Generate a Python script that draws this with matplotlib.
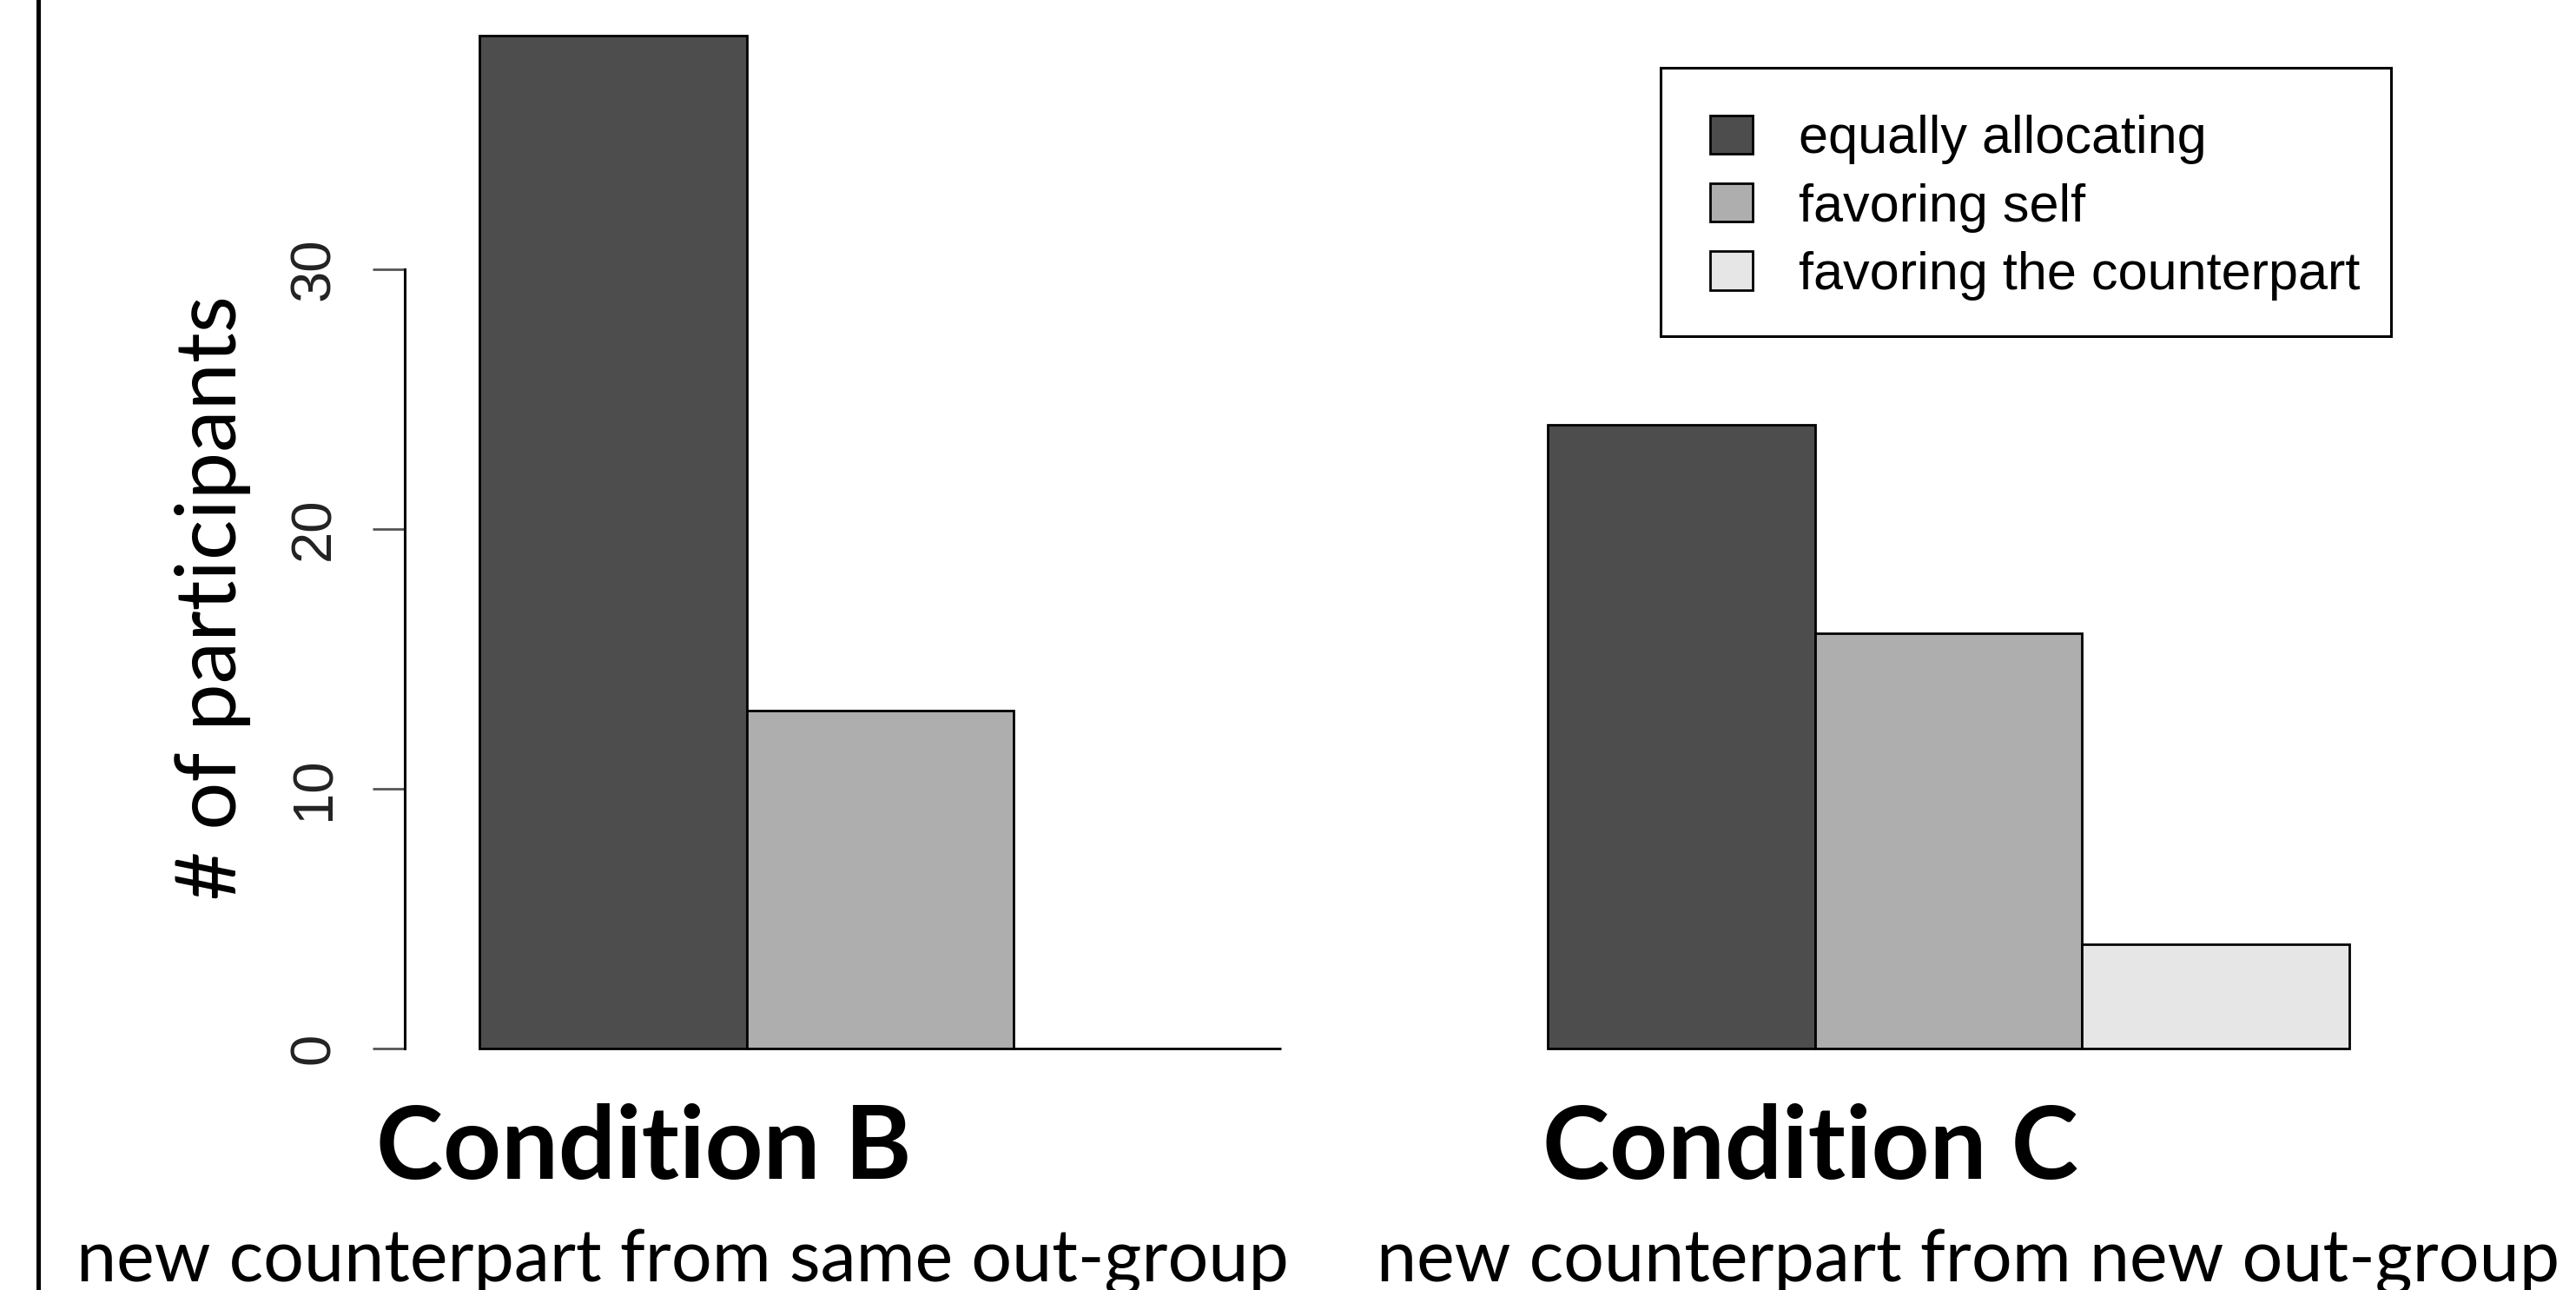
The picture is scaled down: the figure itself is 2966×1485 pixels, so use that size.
import matplotlib
matplotlib.use("Agg")
import matplotlib.pyplot as plt
import numpy as np
from matplotlib.patches import Patch, Rectangle
from matplotlib.lines import Line2D

# ---------------------------------------------------------------------------
# Data
# ---------------------------------------------------------------------------
conditions = ["Condition B", "Condition C"]
subtitles = ["new counterpart from same out-group", "new counterpart from new out-group"]
categories = ["equally allocating", "favoring self", "favoring the counterpart"]
cond_b = [39, 13, 0]
cond_c = [24, 16, 4]
yticks = [0, 10, 20, 30]

colors = ["#4D4D4D", "#AEAEAE", "#E6E6E6"]
W, H = 2966, 1485

fig = plt.figure(figsize=(W / 100, H / 100), dpi=100)
# axes placed like R's barplot plot region (y: 0 -> 1207px, 29.9 px per unit)
y_bot, y_top = 1207 + 1.56 * 29.9, 1207 - 40.56 * 29.9
ax = fig.add_axes([466 / W, 1 - y_bot / H, (2791 - 466) / W, (y_bot - y_top) / H])

# R barplot(beside=TRUE): groups of 3 unit bars, one unit gap
for g, vals in enumerate([cond_b, cond_c]):
    lefts = 1 + 4 * g + np.arange(len(vals))
    ax.bar(lefts, vals, width=1, align="edge", color=colors,
           edgecolor="black", linewidth=2.0)

ax.set_xlim(0.72, 8.28)
ax.set_ylim(-1.56, 40.56)
for s in ["top", "right", "bottom"]:
    ax.spines[s].set_visible(False)
ax.spines["left"].set_bounds(0, 30)
ax.spines["left"].set_linewidth(2.2)
ax.set_xticks([])
ax.set_yticks(yticks)
ax.set_yticklabels([str(t) for t in yticks], family="Liberation Sans",
                   fontsize=47, color="#222222", rotation=90, va="center")
ax.tick_params(axis="y", length=27, width=2.0, color="#555555", pad=26)

# legend: entries without frame, frame drawn as R draws it (uneven padding)
handles = [Patch(facecolor=c, edgecolor="black", linewidth=2.0) for c in colors]
leg = ax.legend(handles, categories, loc="center left",
                bbox_to_anchor=(1969 / W, 1 - 239 / H), bbox_transform=fig.transFigure,
                borderaxespad=0, borderpad=0, frameon=False,
                prop={"family": "Liberation Sans", "size": 44},
                handlelength=0.8, handleheight=0.74, handletextpad=0.87,
                labelspacing=0.35)
fig.add_artist(Rectangle((1912 / W, 1 - 387 / H), (2753 - 1912) / W, (387 - 78) / H,
                         transform=fig.transFigure, facecolor="none",
                         edgecolor="black", linewidth=2.2))

# y label and condition captions (added in the slide in Calibri-like font)
fig.text(245 / W, 1 - 688 / H, "# of participants", rotation=90,
         ha="center", va="center", family="Lato", fontsize=70)
for x, cond in zip([741, 2084], conditions):
    fig.text(x / W, 1 - 1357 / H, cond, ha="center", va="baseline",
             family="Lato", weight="bold", fontsize=84)
for x, sub in zip([786, 2266], subtitles):
    fig.text(x / W, 1 - 1475 / H, sub, ha="center", va="baseline",
             family="Lato", fontsize=59.5)

# left frame line
fig.add_artist(Line2D([44 / W, 44 / W], [0, 1], transform=fig.transFigure,
                      color="black", linewidth=3.6))

fig.savefig("out.png", dpi=100)
